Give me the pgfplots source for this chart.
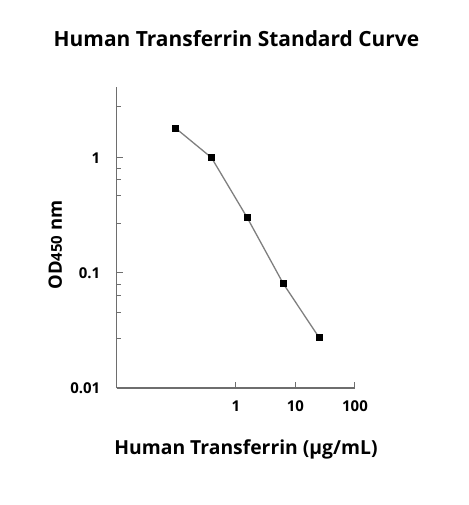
\documentclass[border=0pt]{standalone}
\usepackage{fontspec}
\setmainfont{Open Sans}
\usepackage{pgfplots}
\pgfplotsset{compat=1.18}
\definecolor{axisgray}{HTML}{6E6E6E}
\definecolor{linegray}{HTML}{7F7F7F}
\begin{document}
\begin{tikzpicture}
\begin{axis}[
  at={(0,0)}, anchor=south west,
  scale only axis,
  width=238.3bp, height=301bp,
  xmode=log, ymode=log,
  xmin=0.01, xmax=100,
  ymin=0.01, ymax=4.11,
  axis x line*=bottom, axis y line*=left,
  axis line style={axisgray, line width=1.2bp},
  tick align=inside,
  tick style={axisgray, line width=1bp},
  major tick length=6bp,
  minor tick length=4bp,
  xtick={1,10,100}, xticklabels={1,10,100},
  ytick={0.01,0.1,1}, yticklabels={0.01,0.1,1},
  xminorticks=false,
  minor ytick={0.027,0.045,0.063,0.08,0.27,0.47,0.65,0.8,2.8},
  /pgf/number format/assume math mode=true,
  tick label style={font=\bfseries\fontsize{15}{15}\selectfont, black},
  xticklabel style={yshift=-9bp},
  yticklabel style={xshift=-13bp},
  clip=false,
]
\addplot[linegray, line width=1.3bp, mark=square*,
  mark options={black, fill=black, solid, mark size=2.8bp}]
  coordinates {(0.098,1.80)(0.39,1.0)(1.56,0.30)(6.25,0.0806)(25,0.0274)};
\end{axis}
\node[anchor=base, font=\bfseries\fontsize{21}{21}\selectfont] at (119.8bp,341bp) {Human Transferrin Standard Curve};
\node[anchor=base, font=\bfseries\fontsize{19.4}{19.4}\selectfont] at (129.3bp,-66bp) {Human Transferrin (µg/mL)};
\node[anchor=base, rotate=90, font=\bfseries\fontsize{18.5}{18.5}\selectfont] at (-54.7bp,143bp) {OD{\fontsize{15}{15}\selectfont 450} nm};
\pgfresetboundingbox
\path[use as bounding box] (-116.7bp,-117bp) rectangle (352.3bp,388bp);
\end{tikzpicture}
\end{document}
